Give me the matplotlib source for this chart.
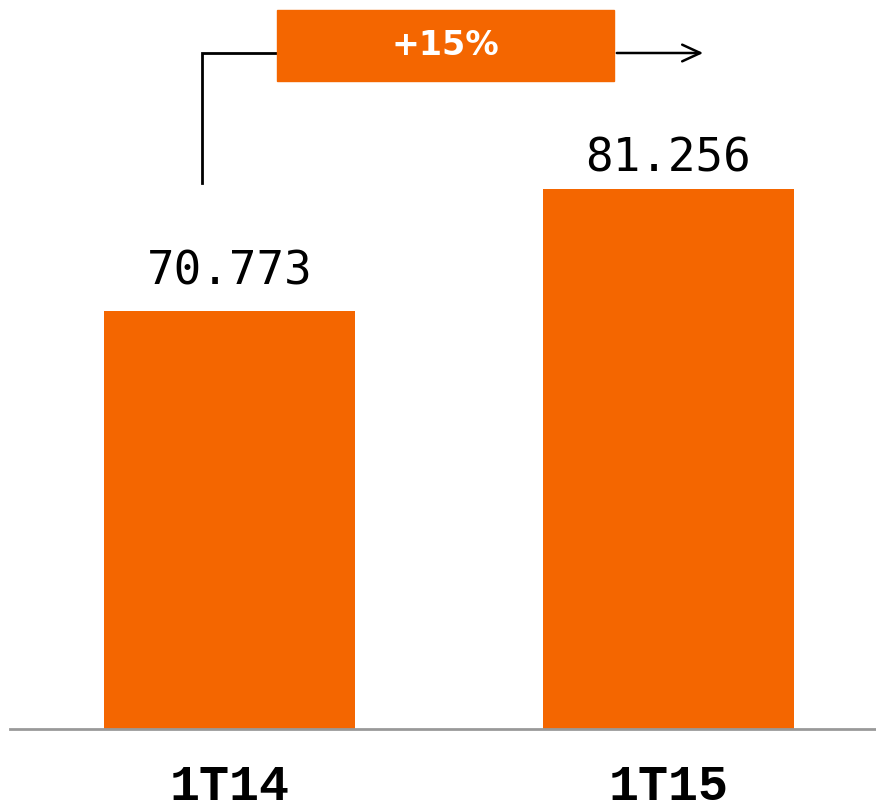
import matplotlib
matplotlib.use("Agg")
import matplotlib.pyplot as plt

categories = ["1T14", "1T15"]
values = [70.773, 81.256]
value_labels = ["70.773", "81.256"]
growth_label = "+15%"

ORANGE = "#F46600"
W, H = 876, 808
fig = plt.figure(figsize=(W / 100, H / 100), dpi=100)
ax = fig.add_axes([10 / W, (H - 729) / H, (W - 10) / W, 729 / H])

x = list(range(len(categories)))
ax.bar(x, values, width=251 / 439, color=ORANGE, zorder=2)
ax.set_xlim(-0.5, 1 + (W - 668.5) / 439)
ymin = 35.0
scale = 11.68
ax.set_ylim(ymin, ymin + 729 / scale)

for s in ["top", "right", "left"]:
    ax.spines[s].set_visible(False)
ax.spines["bottom"].set_color("#999999")
ax.spines["bottom"].set_linewidth(2)
ax.set_yticks([])
ax.set_xticks(x)
ax.set_xticklabels(categories, family="Liberation Mono", fontweight="bold", fontsize=36)
ax.tick_params(axis="x", length=0, pad=25)

label_offsets = [12, 5]
for xi, v, lab, off in zip(x, values, value_labels, label_offsets):
    ax.annotate(lab, (xi, v), xytext=(0, off), textcoords="offset points",
                ha="center", va="bottom", family="DejaVu Sans Mono", fontsize=33)

def py(p):
    return ymin + (729 - p) / scale

def px(p):
    return (p - 229.5) / 439

# bracket
ax.plot([px(201.5), px(201.5), px(277)], [py(183), py(53), py(53)], color="black", lw=2,
        clip_on=False, solid_joinstyle="miter", zorder=3)
ax.annotate("", xy=(px(706), py(53)), xytext=(px(614), py(53)),
            arrowprops=dict(arrowstyle="->,head_length=1.3,head_width=0.6", color="black", lw=1.8),
            annotation_clip=False)
ax.add_patch(plt.Rectangle((px(277), py(81)), px(614) - px(277), py(10) - py(81),
                           color=ORANGE, clip_on=False, zorder=4))
ax.text((px(277) + px(614)) / 2, (py(10) + py(81)) / 2, growth_label, color="white",
        fontsize=24, fontweight="bold", ha="center", va="center", zorder=5)

fig.savefig("out.png", dpi=100)
